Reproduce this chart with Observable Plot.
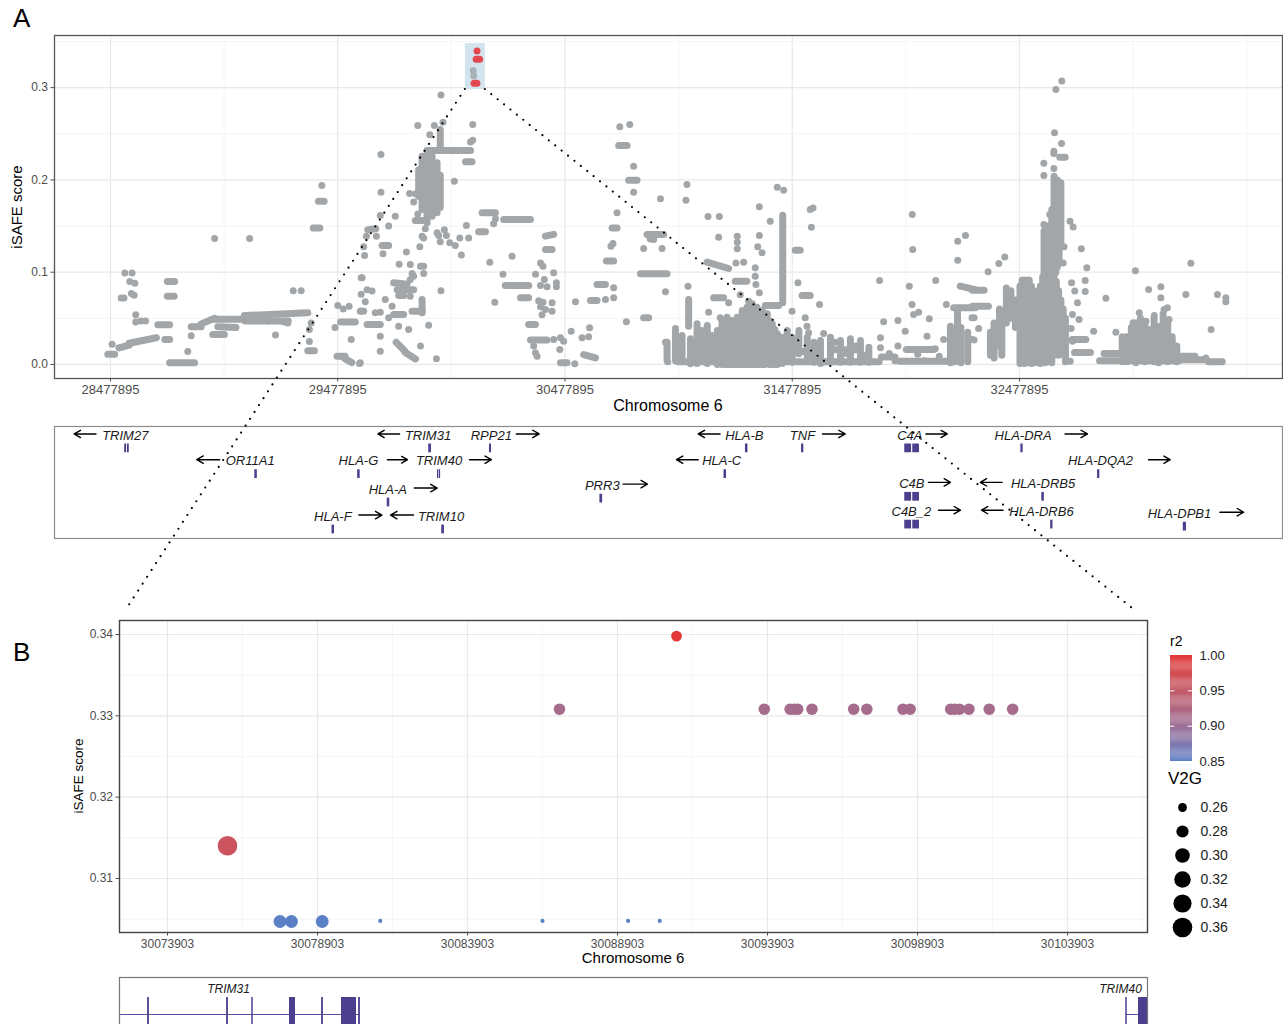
<!DOCTYPE html>
<html><head><meta charset="utf-8">
<script src="https://cdn.jsdelivr.net/npm/d3@7"></script>
<script src="https://cdn.jsdelivr.net/npm/@observablehq/plot@0.6"></script>
<style>
body{margin:0;background:#fff;font-family:"Liberation Sans",Arial,sans-serif;}
#page{position:relative;width:1283px;height:1024px;overflow:hidden;background:#fff;}
#page svg{position:absolute;}
.t{position:absolute;white-space:nowrap;color:#000;line-height:1;}
</style></head><body><div id="page"></div>
<script>
// ---------------- DATA ----------------
// Panel A: positions in Mb (chromosome 6), iSAFE score
const aTicks = [28.477895, 29.477895, 30.477895, 31.477895, 32.477895];
const aMinorX = [28.977895, 29.977895, 30.977895, 31.977895, 32.977895, 33.477895];
const aYTicks = [0, 0.1, 0.2, 0.3];
const aMinorY = [0.05, 0.15, 0.25, 0.35];
const aDomainX = [28.2315, 33.6352];
const aDomainY = [-0.0152, 0.3565];

// single (isolated) SNPs [Mb, score]
const aDots = [
[28.485,.022],[28.541,.099],[28.573,.099],[28.563,.090],[28.585,.088],[28.570,.077],[28.582,.075],[28.525,.072],[28.537,.072],[28.589,.054],[28.589,.046],[28.612,.047],[28.632,.047],
[28.818,.014],[28.833,.031],[28.936,.1365],[29.090,.1365],[29.204,.032],[29.243,.046],[29.258,.045],[29.282,.080],[29.317,.080],[29.361,.045],[29.353,.038],[29.353,.025],[29.408,.194],[29.478,.064],[29.502,.060],[29.528,.063],[29.466,.040],[29.537,.027],[29.574,.001],[29.581,.094],[29.581,.076],[29.581,.058],[29.596,.118],
[29.932,.292],[29.830,.259],[29.903,.259],[29.941,.2625],[30.072,.260],[29.883,.249],[30.062,.241],[30.072,.243],[29.668,.2275],[29.812,.176],[29.820,.185],[29.830,.163],[29.991,.1986],[29.668,.1867],[29.794,.1853],[29.731,.1607],[29.665,.1614],[30.172,.158],[30.164,.1524],[29.702,.150],[29.604,.139],[29.648,.139],[29.592,.1275],[29.677,.120],[29.863,.147],[29.849,.139],[29.839,.1275],[29.856,.137],[29.915,.1427],[29.922,.1398],[29.947,.146],[29.956,.1398],[29.929,.133],[29.971,.132],[29.995,.129],[30.015,.137],[30.054,.137],[30.044,.1506],[30.022,.1185],[29.780,.122],[29.748,.1087],[29.797,.1083],[29.805,.0986],[29.812,.0957],[29.797,.092],[29.856,.0986],[29.585,.0939],[29.607,.081],[29.629,.0795],[29.599,.0679],[29.577,.0578],[29.592,.0578],[29.643,.056],[29.665,.0567],[29.687,.0704],[29.717,.0632],[29.797,.074],[29.702,.0506],[29.746,.0415],[29.790,.0379],[29.665,.0307],[29.665,.0144],[29.577,.0018],[29.842,.0199],[29.878,.0426],[29.912,.0061],[29.932,.080],[30.147,.1109],[30.245,.1174],[30.205,.0979],[30.169,.0675],[30.348,.0979],[30.370,.110],[30.381,.1065],[30.387,.092],[30.370,.0856],[30.399,.0841],[30.428,.0993],[30.440,.0885],[30.440,.0841],[30.362,.069],[30.381,.0675],[30.370,.0625],[30.392,.0596],[30.377,.054],[30.421,.0668],[30.421,.0578],[30.340,.0199],[30.348,.0126],[30.355,.009],[30.428,.027],[30.458,.029],[30.472,.0253],[30.455,.0163],[30.521,.0007],[30.505,.0361],[30.524,.0679],[30.553,.0289],[30.582,.030],[30.586,.0397],[30.656,.0704],[30.692,.0722],[30.692,.0831],[30.680,.1282],[30.689,.131],[30.707,.1643],[30.719,.2575],[30.763,.260],[30.780,.2149],[30.780,.1867],[30.898,.1795],[30.868,.1354],[30.824,.1257],[30.905,.1257],[30.853,.136],[30.920,.0787],[30.748,.0462],[30.920,.0242],[30.930,.003],
[31.0146,.195],[31.0101,.178],[31.107,.1603],[31.157,.1603],[31.154,.138],[31.236,.139],[31.236,.1325],[31.236,.1253],[31.333,.1708],[31.381,.1553],[31.333,.1398],[31.326,.1275],[31.345,.121],[31.412,.1921],[31.440,.1889],[31.557,.168],[31.569,.1697],[31.562,.1488],[31.019,.0849],[31.230,.110],[31.264,.1109],[31.315,.1047],[31.315,.0957],[31.318,.0867],[31.333,.0776],[31.249,.0755],[31.286,.0686],[31.198,.0668],[31.110,.0567],[31.161,.0506],[31.477,.0578],[31.503,.0885],[31.598,.065],[31.535,.0506],[31.543,.0415],[31.550,.0343],[31.616,.0336],[31.880,.0462],[31.943,.0477],[31.862,.091],[31.975,.0361],[31.943,.0199],[31.993,.0849],[32.005,.065],[32.012,.0542],[32.034,.0567],[32.081,.0495],[32.006,.1625],[32.008,.1246],[32.109,.091],[32.071,.0307],[32.107,.017],[32.144,.027],[32.156,.065],[32.206,.1336],[32.240,.1398],[32.206,.113],[32.269,.027],[32.269,.0506],[31.866,.029],[31.866,.018],
[31.665,.024],[31.712,.012],[31.758,.020],[31.800,.010],[31.905,.012],[31.930,.004],[32.030,.011],[32.060,.004],[32.125,.009],
[32.664,.3073],[32.638,.298],[32.632,.251],[32.663,.2394],[32.585,.218],[32.585,.2048],[32.629,.2124],[32.585,.1517],[32.611,.1625],[32.700,.1553],[32.714,.149],[32.750,.1253],[32.674,.1275],[32.670,.110],[32.774,.1047],[32.767,.091],[32.767,.079],[32.707,.0885],[32.721,.0795],[32.733,.0668],[32.711,.0542],[32.740,.0488],[32.705,.039],[32.711,.0253],[32.701,.0036],[32.804,.0361],[32.340,.1004],[32.387,.1094],[32.413,.1166],[32.298,.039],[32.278,.0264],[32.278,.0506],[32.858,.0719],[32.988,.1015],[33.046,.0812],[33.100,.0841],[33.100,.0722],[33.129,.0614],[33.114,.0596],[33.232,.1098],[33.210,.0758],[33.349,.0758],[33.386,.0722],[33.386,.0679],[33.321,.0379],[32.902,.035],[32.949,.030],[32.978,.0451],[33.005,.056],[33.034,.0469],[33.071,.0531],[33.085,.0415],[33.136,.0488],[33.298,.007]
];

// streaks of overlapping SNPs [Mb from, Mb to, score from, score to]
const aStreaks = [
[28.466,28.496,.011,.011],[28.515,28.56,.018,.021],[28.56,28.62,.023,.026],[28.62,28.68,.026,.029],
[28.686,28.738,.043,.043],[28.717,28.738,.027,.027],[28.728,28.760,.090,.090],[28.728,28.758,.074,.074],[28.738,28.848,.002,.002],
[28.833,28.877,.041,.041],[28.877,28.936,.044,.050],[28.936,29.053,.049,.049],[28.95,29.03,.041,.040],[28.928,28.979,.0325,.0325],
[29.067,29.346,.053,.056],[29.07,29.17,.047,.047],[29.17,29.26,.047,.047],[29.346,29.375,.015,.015],
[29.370,29.399,.148,.148],[29.393,29.418,.177,.177],
[29.475,29.51,.009,.009],[29.51,29.54,.006,.002],[29.49,29.555,.046,.046],
[29.929,29.929,.2546,.2365],[29.871,30.062,.232,.232],[30.040,30.069,.2196,.2196],
[29.849,29.849,.2257,.168],[29.871,29.871,.231,.1535],[29.893,29.893,.2257,.1607],[29.915,29.915,.2185,.1643],[29.834,29.834,.211,.182],[29.929,29.929,.205,.170],[29.882,29.882,.215,.175],
[29.819,29.856,.156,.156],[30.113,30.172,.1643,.1643],[30.208,30.326,.157,.157],[29.61,29.645,.146,.147],[29.673,29.702,.129,.129],[30.098,30.128,.1437,.1437],[29.842,29.856,.1065,.1065],[29.724,29.783,.0885,.087],[29.739,29.812,.081,.081],[29.724,29.768,.0542,.0542],[29.746,29.768,.0748,.0748],[29.849,29.849,.0704,.056],[29.805,29.849,.0578,.0578],[29.607,29.665,.0433,.0433],
[29.735,29.775,.024,.014],[29.775,29.82,.013,.006],
[30.215,30.318,.0856,.0856],[30.282,30.318,.0722,.0722],[30.392,30.428,.139,.141],[30.392,30.421,.1246,.1246],[30.318,30.348,.0433,.0433],[30.326,30.399,.0264,.0264],[30.458,30.487,.0018,.0018],[30.560,30.612,.0108,.0072],[30.590,30.619,.0693,.0693],[30.619,30.656,.0867,.0867],[30.660,30.692,.112,.112],[30.685,30.707,.148,.148],[30.714,30.751,.2373,.2373],[30.758,30.795,.1997,.1997],[30.839,30.912,.1408,.1408],[30.810,30.927,.0982,.0982],[30.824,30.846,.0506,.0506],
[31.436,31.436,.1618,.0668],[31.491,31.513,.1239,.1239],[31.022,31.022,.0704,.0415],[31.103,31.198,.1109,.104],[31.227,31.278,.0903,.0903],[31.132,31.176,.0722,.0722],[31.359,31.418,.0639,.0639],[31.521,31.557,.0748,.0748],
// dense lower mass around 31.0-31.8 Mb (columns of overlapping SNPs)
[30.927,30.927,.024,.0043],[30.964,30.964,.039,.004],[30.993,30.993,.0314,.008],[31.030,31.030,.0278,.0007],[31.059,31.059,.044,.001],[31.081,31.081,.0368,.004],[31.104,31.104,.0422,.001],[31.125,31.125,.0314,.008],[31.148,31.148,.0368,.0],
[31.169,31.169,.0476,.0],[31.180,31.180,.040,.0],[31.191,31.191,.0513,.0],[31.202,31.202,.044,.0],[31.213,31.213,.0476,.0],[31.225,31.225,.045,.0],[31.236,31.236,.0513,.0],[31.247,31.247,.050,.0],[31.258,31.258,.0585,.0],[31.269,31.269,.054,.0],[31.279,31.279,.0621,.0],[31.290,31.290,.058,.0],[31.302,31.302,.0657,.0],[31.312,31.312,.060,.0],[31.323,31.323,.0621,.0],[31.335,31.335,.055,.0],[31.346,31.346,.0585,.0],[31.357,31.357,.050,.0],[31.368,31.368,.0549,.001],[31.379,31.379,.047,.0],[31.390,31.390,.044,.0],[31.401,31.401,.038,.0],[31.412,31.412,.0332,.0],[31.434,31.434,.0296,.001],[31.456,31.456,.0368,.004],[31.478,31.478,.0296,.0025],[31.507,31.507,.0368,.0115],[31.544,31.544,.0296,.008],[31.573,31.573,.0242,.0025],[31.602,31.602,.026,.001],[31.646,31.646,.0296,.0025],[31.690,31.690,.026,.0025],[31.734,31.734,.0278,.0025],[31.778,31.778,.026,.0025],[31.815,31.815,.0188,.0025],
[30.975,31.150,.003,.003],[31.43,31.62,.003,.003],[31.44,31.56,.014,.014],[31.62,31.86,.003,.003],[31.66,31.76,.016,.016],
[31.87,31.93,.008,.008],[31.98,32.10,.0163,.0163],[31.95,32.20,.0036,.0036],
[32.188,32.283,.0614,.0614],[32.217,32.283,.0849,.0812],[32.174,32.174,.0415,.002],[32.19,32.19,.035,.003],[32.205,32.205,.060,.004],[32.22,32.22,.040,.002],[32.25,32.25,.035,.003],
[32.629,32.629,.231,.2286],[32.655,32.679,.2246,.2246],
[32.630,32.630,.204,.103],[32.645,32.645,.200,.106],[32.660,32.660,.197,.132],[32.620,32.620,.168,.095],[32.601,32.601,.150,.103],[32.586,32.586,.145,.098],[32.638,32.638,.190,.100],[32.652,32.652,.190,.110],
[32.271,32.322,.0805,.0805],[32.271,32.341,.0632,.0632],
[32.42,32.42,.083,.045],[32.44,32.44,.080,.050],[32.46,32.46,.070,.040],[32.366,32.366,.045,.007],[32.35,32.35,.035,.010],[32.39,32.39,.060,.020],[32.40,32.40,.050,.010],
[32.480,32.480,.085,.001],[32.490,32.490,.0914,.002],[32.500,32.500,.0914,.001],[32.510,32.510,.090,.002],[32.520,32.520,.0914,.003],[32.530,32.530,.085,.001],[32.540,32.540,.080,.002],[32.550,32.550,.078,.004],[32.560,32.560,.080,.002],[32.570,32.570,.085,.001],[32.580,32.580,.095,.003],[32.590,32.590,.100,.002],[32.600,32.600,.103,.003],[32.610,32.610,.100,.005],[32.620,32.620,.095,.002],[32.630,32.630,.103,.010],[32.640,32.640,.090,.020],[32.650,32.650,.080,.010],[32.660,32.660,.070,.015],[32.670,32.670,.060,.020],[32.680,32.680,.050,.003],
[32.49,32.52,.0914,.0914],
[32.71,32.77,.027,.027],[32.72,32.79,.013,.013],[32.83,32.96,.004,.004],[32.85,32.92,.012,.012],
[32.93,32.93,.030,.003],[32.95,32.95,.028,.003],[32.97,32.97,.040,.005],[32.99,32.99,.045,.002],[33.01,33.01,.050,.005],[33.03,33.03,.044,.003],[33.05,33.05,.038,.005],[33.07,33.07,.050,.003],[33.09,33.09,.040,.002],[33.11,33.11,.055,.004],[33.13,33.13,.045,.003],[33.15,33.15,.030,.005],[33.17,33.17,.020,.003],
[32.93,33.18,.004,.004],[33.12,33.30,.005,.005],[33.15,33.25,.009,.009],[33.31,33.37,.003,.003]
];

// highlighted lead region in panel A
const aHighlight = {x1: 30.0395, x2: 30.1275, y1: 0.298, y2: 0.3478};
const aRedDots = [[30.0909, 0.3398]];
const aRedStreaks = [[30.0870, 30.1021, 0.3308, 0.3308], [30.0777, 30.0903, 0.3047, 0.3047]];
const aGrayInBox = [[30.0740, 0.3185], [30.0760, 0.3130]];

// Gene track A
const geneNames  = ["TRIM27","TRIM31","RPP21","HLA-B","TNF","C4A","HLA-DRA","OR11A1","HLA-G","TRIM40","HLA-C","HLA-DQA2","HLA-A","PRR3","C4B","HLA-DRB5","HLA-F","TRIM10","C4B_2","HLA-DRB6","HLA-DPB1"];
const geneRow    = [1,1,1,1,1,1,1, 2,2,2,2,2, 3.1,2.95,2.88,2.88, 4.15,4.15,3.96,3.96,4.04];
const geneLabelX = [28.5430,29.8750,30.1535,31.2669,31.5230,31.9951,32.4937,29.0926,29.5687,29.9234,31.1674,32.8343,29.6981,30.6420,32.0039,32.5817,29.4561,29.9322,32.0021,32.5747,33.1818];
const geneArrowFrom = [28.4141,29.7501,30.2635,31.1604,31.6110,32.0660,32.6781,28.9584,29.6963,30.0576,31.0641,33.0455,29.8148,30.7336,32.0774,32.4017,29.5710,29.8112,32.1214,32.4053,33.3596];
const geneArrowTo   = [28.3182,29.6546,30.3643,31.0641,31.7109,32.1601,32.7771,28.8576,29.7848,30.1540,30.9686,33.1410,29.9155,30.8409,32.1742,32.3054,29.6722,29.7100,32.2182,32.3107,33.4643];
// exon blocks [gene, start Mb, end Mb]
const geneBlocks = [
["TRIM27",28.5405,28.5485],["TRIM27",28.5525,28.5605],["TRIM31",29.8783,29.8903],["RPP21",30.1455,30.1545],["HLA-B",31.2720,31.2830],["TNF",31.5189,31.5289],
["C4A",31.9730,32.0029],["C4A",32.0082,32.0377],["HLA-DRA",32.4839,32.4939],["OR11A1",29.1130,29.1240],["HLA-G",29.5655,29.5765],
["TRIM40",29.9170,29.9225],["TRIM40",29.9250,29.9305],["HLA-C",31.1777,31.1887],["HLA-DQA2",32.8214,32.8314],["HLA-A",29.6957,29.7067],["PRR3",30.6316,30.6436],
["C4B",31.9730,32.0029],["C4B",32.0082,32.0377],["HLA-DRB5",32.5762,32.5872],["HLA-F",29.4525,29.4635],["TRIM10",29.9355,29.9475],
["C4B_2",31.9730,32.0029],["C4B_2",32.0082,32.0377],["HLA-DRB6",32.6150,32.6250],["HLA-DPB1",33.1986,33.2126]
];

// Panel B (bp)
const bTicks = [30073903, 30078903, 30083903, 30088903, 30093903, 30098903, 30103903];
const bMinorX = [30076403, 30081403, 30086403, 30091403, 30096403, 30101403, 30106403];
const bYTicks = [0.31, 0.32, 0.33, 0.34];
const bMinorY = [0.305, 0.315, 0.325, 0.335];
const bDomainX = [30072303, 30106570];
const bDomainY = [0.30336, 0.34172];
const bPos   = [30075903,30077653,30078035,30079061,30080995,30086403,30086969,30089258,30090311,30090870,30093797,30094658,30094790,30094910,30095386,30096777,30097214,30098420,30098658,30100009,30100141,30100300,30100618,30101294,30102075];
const bScore = [0.31402,0.30472,0.30472,0.30472,0.30478,0.30478,0.33082,0.30478,0.30478,0.33980,0.33082,0.33082,0.33082,0.33082,0.33082,0.33082,0.33082,0.33082,0.33082,0.33082,0.33082,0.33082,0.33082,0.33082,0.33082];
const bR2    = [0.96,0.85,0.85,0.85,0.85,0.85,0.91,0.85,0.85,1.00,0.91,0.91,0.91,0.91,0.91,0.91,0.91,0.91,0.91,0.91,0.91,0.91,0.91,0.91,0.91];
const bV2G   = [0.36,0.285,0.285,0.285,0.25,0.25,0.275,0.25,0.25,0.27,0.275,0.275,0.275,0.275,0.275,0.275,0.275,0.275,0.275,0.275,0.275,0.275,0.275,0.275,0.275];
const r2Breaks = [0.85, 0.90, 0.95, 1.00];
const v2gBreaks = [0.26, 0.28, 0.30, 0.32, 0.34, 0.36];

// Gene track B (bp)
const bIntrons = [[30070000, 30080336], [30105870, 30108000]];
const bExons = [[30073240,30073300],[30075873,30075933],[30076711,30076761],[30077970,30078170],[30079040,30079100],[30079703,30080203],[30080273,30080333],[30105845,30105895],[30106270,30108000]];
const bGeneLabels = [["TRIM31", 30075936], ["TRIM40", 30105670]];

// ---------------- DRAW ----------------
const page = document.getElementById("page");
const GRAY = "#a3a6a8";
const FONT = "'Liberation Sans', Arial, sans-serif";
const baseStyle = {fontFamily: FONT, fontSize: "12px", color: "#4d4d4d", background: "transparent", overflow: "visible"};

function place(el, left, top) { el.style.left = left + "px"; el.style.top = top + "px"; page.appendChild(el); return el; }
function label(text, left, top, css) {
  const d = document.createElement("div"); d.className = "t"; d.textContent = text;
  d.style.left = left + "px"; d.style.top = top + "px"; Object.assign(d.style, css || {}); page.appendChild(d); return d;
}

// Panel A
const chartA = Plot.plot({
  width: 1283, height: 418, marginLeft: 54, marginRight: 1, marginTop: 35, marginBottom: 40,
  style: baseStyle,
  x: {domain: aDomainX}, y: {domain: aDomainY},
  marks: [
    Plot.ruleX(aMinorX, {stroke: "#f0f0f0", strokeWidth: 0.7}),
    Plot.ruleY(aMinorY, {stroke: "#f0f0f0", strokeWidth: 0.7}),
    Plot.ruleX(aTicks, {stroke: "#e8e8e8", strokeWidth: 1.2}),
    Plot.ruleY(aYTicks, {stroke: "#e8e8e8", strokeWidth: 1.2}),
    Plot.rect([aHighlight], {x1: "x1", x2: "x2", y1: "y1", y2: "y2", fill: "#d3e4ee"}),
    Plot.link(aStreaks, {x1: d => d[0], x2: d => d[1], y1: d => d[2], y2: d => d[3], stroke: GRAY, strokeWidth: 7, strokeLinecap: "round"}),
    Plot.dot(aDots, {x: d => d[0], y: d => d[1], r: 3.5, fill: GRAY}),
    Plot.dot(aGrayInBox, {x: d => d[0], y: d => d[1], r: 3.5, fill: "#a9b2b8"}),
    Plot.link(aRedStreaks, {x1: d => d[0], x2: d => d[1], y1: d => d[2], y2: d => d[3], stroke: "#e5474f", strokeWidth: 7, strokeLinecap: "round"}),
    Plot.dot(aRedDots, {x: d => d[0], y: d => d[1], r: 3.5, fill: "#e5474f"}),
    Plot.frame({stroke: "#555", strokeWidth: 1.3}),
    Plot.axisX({ticks: aTicks, tickFormat: d => String(Math.round(d * 1e6)), tickSize: 3.5, tickPadding: 3, fontSize: 13, color: "#4d4d4d", label: null}),
    Plot.axisY({ticks: aYTicks, tickFormat: d3.format(".1f"), tickSize: 3.5, tickPadding: 3, fontSize: 12, color: "#4d4d4d", label: null})
  ]
});
place(chartA, 0, 0);

// Gene track A
const geneTable = geneNames.map((name, i) => ({name, row: geneRow[i], labelX: geneLabelX[i], a1: geneArrowFrom[i], a2: geneArrowTo[i]}));
const rowOf = Object.fromEntries(geneTable.map(g => [g.name, g.row]));
const blockTable = geneBlocks.map(([g, s, e]) => ({gene: g, s, e, row: rowOf[g]}));
const trackA = Plot.plot({
  width: 1283, height: 122, marginLeft: 54, marginRight: 1, marginTop: 6, marginBottom: 4,
  style: baseStyle,
  x: {domain: aDomainX, axis: null}, y: {domain: [0.65, 5.0], reverse: true, axis: null},
  marks: [
    Plot.frame({stroke: "#8c8c8c", strokeWidth: 1.2}),
    Plot.rect(blockTable, {x1: "s", x2: "e", y1: d => d.row + 0.33, y2: d => d.row + 0.67, fill: "#4b3f8e"}),
    Plot.text(geneTable, {x: "labelX", y: "row", text: "name", fontStyle: "italic", fontSize: 13, fill: "#1a1a1a"}),
    Plot.arrow(geneTable, {x1: "a1", x2: "a2", y1: d => d.row - 0.06, y2: d => d.row - 0.06, stroke: "#000", strokeWidth: 1.4, headLength: 8})
  ]
});
place(trackA, 0, 420);

// Panel B
const v2gMin = d3.min(bV2G), v2gMax = d3.max(bV2G);
const sizeT = v => Math.sqrt(Math.max(0, v - v2gMin) / (v2gMax - v2gMin));
const bTable = bPos.map((x, i) => ({x, y: bScore[i], r2: bR2[i], v2g: bV2G[i], rr: sizeT(bV2G[i])}));
const colorOpts = {type: "linear", domain: [0.85, 1.0], range: ["#5b80c6", "#e2383a"], interpolate: d3.interpolateLab};
const rOpts = {type: "linear", domain: [0, 1], range: [2.1, 9.8]};
const chartB = Plot.plot({
  width: 1160, height: 372, marginLeft: 119, marginRight: 13, marginTop: 20, marginBottom: 40,
  style: baseStyle,
  x: {domain: bDomainX}, y: {domain: bDomainY},
  color: colorOpts, r: rOpts,
  marks: [
    Plot.ruleX(bMinorX, {stroke: "#f0f0f0", strokeWidth: 0.7}),
    Plot.ruleY(bMinorY, {stroke: "#f0f0f0", strokeWidth: 0.7}),
    Plot.ruleX(bTicks, {stroke: "#e8e8e8", strokeWidth: 1.2}),
    Plot.ruleY(bYTicks, {stroke: "#e8e8e8", strokeWidth: 1.2}),
    Plot.dot(bTable, {x: "x", y: "y", r: "rr", fill: "r2"}),
    Plot.frame({stroke: "#444", strokeWidth: 1.4}),
    Plot.axisX({ticks: bTicks, tickFormat: d => String(d), tickSize: 3.5, tickPadding: 3, fontSize: 12, color: "#4d4d4d", label: null}),
    Plot.axisY({ticks: bYTicks, tickFormat: d3.format(".2f"), tickSize: 3.5, tickPadding: 3, fontSize: 12, color: "#4d4d4d", label: null})
  ]
});
place(chartB, 0, 600);

// Colour bar legend (r2)
const cbar = Plot.plot({
  width: 100, height: 126, marginLeft: 5, marginRight: 73, marginTop: 10, marginBottom: 10,
  style: baseStyle,
  x: {domain: [0, 1], axis: null}, y: {domain: [0.85, 1.0]},
  color: colorOpts,
  marks: [
    Plot.rect(d3.range(0.85, 1.0, 0.0015), {x1: 0, x2: 1, y1: d => d, y2: d => Math.min(1.0, d + 0.0017), fill: d => d}),
    Plot.ruleY([0.90, 0.95], {x1: 0, x2: 0.2, stroke: "white", strokeWidth: 1}),
    Plot.ruleY([0.90, 0.95], {x1: 0.8, x2: 1, stroke: "white", strokeWidth: 1}),
    Plot.axisY({anchor: "right", ticks: r2Breaks, tickFormat: d3.format(".2f"), tickSize: 0, tickPadding: 7, fontSize: 13, color: "#222", label: null})
  ]
});
place(cbar, 1165, 645);

// Size legend (V2G)
const sizeLegend = Plot.plot({
  width: 90, height: 150, marginLeft: 17, marginRight: 60, marginTop: 16, marginBottom: 13,
  style: baseStyle,
  x: {domain: [0, 1], axis: null}, y: {type: "point", domain: v2gBreaks, axis: null, padding: 0},
  r: rOpts,
  marks: [
    Plot.dot(v2gBreaks, {x: 0, y: d => d, r: d => sizeT(d), fill: "#000"}),
    Plot.text(v2gBreaks, {x: 0, y: d => d, text: d => d.toFixed(2), dx: 18, textAnchor: "start", fontSize: 14, fill: "#222"})
  ]
});
place(sizeLegend, 1165, 790);

// Gene track B
const trackB = Plot.plot({
  width: 1160, height: 80, marginLeft: 119, marginRight: 13, marginTop: 2, marginBottom: 0,
  style: baseStyle,
  x: {domain: bDomainX, axis: null}, y: {domain: [0, 78], reverse: true, axis: null},
  marks: [
    Plot.ruleY(bIntrons, {y: 37, x1: d => d[0], x2: d => d[1], stroke: "#5a4fa3", strokeWidth: 1, clip: true}),
    Plot.rect(bExons, {x1: d => d[0], x2: d => d[1], y1: 20, y2: 56, fill: "#4b3f8e", clip: true}),
    Plot.text(bGeneLabels, {x: d => d[1], y: 12, text: d => d[0], fontStyle: "italic", fontSize: 12, fill: "#1a1a1a"}),
    Plot.frame({stroke: "#777", strokeWidth: 1.2})
  ]
});
place(trackB, 0, 975);

// Titles / panel letters
label("A", 13, 5, {fontSize: "26px"});
label("B", 13, 639, {fontSize: "26px"});
label("Chromosome 6", 668, 406, {fontSize: "16px", transform: "translate(-50%,-50%)"});
label("iSAFE score", 16, 207, {fontSize: "15px", transform: "translate(-50%,-50%) rotate(-90deg)"});
label("Chromosome 6", 633, 957, {fontSize: "15px", transform: "translate(-50%,-50%)"});
label("iSAFE score", 79, 776, {fontSize: "13.5px", transform: "translate(-50%,-50%) rotate(-90deg)"});
label("r2", 1170, 634, {fontSize: "14px"});
label("V2G", 1168, 770, {fontSize: "17px"});

// Dotted zoom connectors, from the highlight box (scale A) to panel B's frame (scale B)
const sxA = chartA.scale("x"), syA = chartA.scale("y");
const sxB = chartB.scale("x"), syB = chartB.scale("y");
const topB = 600;
const from1 = [sxA.apply(aHighlight.x1), syA.apply(aHighlight.y1)];
const from2 = [sxA.apply(aHighlight.x2), syA.apply(aHighlight.y1)];
const to1 = [sxB.apply(bDomainX[0]), syB.apply(bDomainY[1]) + topB];
const to2 = [sxB.apply(bDomainX[1]), syB.apply(bDomainY[1]) + topB];
const shrink = (a, b, f) => [a[0] + (b[0] - a[0]) * f, a[1] + (b[1] - a[1]) * f];
const ov = d3.create("svg").attr("width", 1283).attr("height", 1024).style("left", "0px").style("top", "0px").style("pointer-events", "none");
[[from1, shrink(from1, to1, 0.98)], [from2, shrink(from2, to2, 0.98)]].forEach(([a, b]) => {
  ov.append("line").attr("x1", a[0]).attr("y1", a[1]).attr("x2", b[0]).attr("y2", b[1])
    .attr("stroke", "#000").attr("stroke-width", 2.2).attr("stroke-linecap", "round").attr("stroke-dasharray", "0 8.2");
});
page.appendChild(ov.node());
</script></body></html>
